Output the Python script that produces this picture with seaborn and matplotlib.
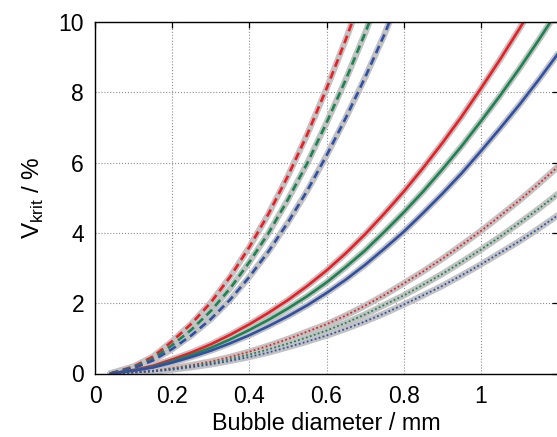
import matplotlib
matplotlib.use("Agg")
import matplotlib.pyplot as plt
import numpy as np
import pandas as pd
import seaborn as sns

# ---- data ----
d_dashed = [0.04, 0.1, 0.15, 0.2, 0.25, 0.3, 0.35, 0.4, 0.45, 0.5, 0.55, 0.6, 0.65, 0.7, 0.75, 0.8]
red_dashed = [0, 0.2, 0.48, 0.92, 1.42, 2.02, 2.75, 3.6, 4.55, 5.62, 6.8, 8.1, 9.5, 11.0, 12.6, 14.4]
green_dashed = [0, 0.18, 0.42, 0.81, 1.25, 1.78, 2.42, 3.17, 4.0, 4.95, 5.98, 7.13, 8.36, 9.68, 11.1, 12.7]
blue_dashed = [0, 0.15, 0.37, 0.70, 1.09, 1.55, 2.1, 2.75, 3.48, 4.3, 5.2, 6.2, 7.27, 8.42, 9.64, 11.0]

d_full = [0.04, 0.1, 0.15, 0.2, 0.25, 0.3, 0.35, 0.4, 0.45, 0.5, 0.55, 0.6, 0.65, 0.7,
          0.75, 0.8, 0.85, 0.9, 0.95, 1.0, 1.05, 1.1, 1.15, 1.2]
red_solid = [0, 0.1, 0.22, 0.40, 0.60, 0.83, 1.1, 1.40, 1.73, 2.09, 2.49, 2.93, 3.42, 3.96,
             4.55, 5.17, 5.84, 6.55, 7.3, 8.1, 8.93, 9.8, 10.71, 11.66]
green_solid = [0, 0.09, 0.19, 0.35, 0.53, 0.73, 0.97, 1.24, 1.53, 1.85, 2.2, 2.59, 3.03, 3.5,
               4.03, 4.58, 5.17, 5.8, 6.46, 7.17, 7.9, 8.67, 9.48, 10.32]
blue_solid = [0, 0.08, 0.17, 0.31, 0.47, 0.65, 0.86, 1.09, 1.35, 1.63, 1.94, 2.29, 2.67, 3.09,
              3.55, 4.03, 4.56, 5.11, 5.69, 6.32, 6.97, 7.64, 8.35, 9.09]

red_dotted = [0, 0.03, 0.08, 0.15, 0.24, 0.34, 0.47, 0.62, 0.79, 0.98, 1.19, 1.40, 1.65, 1.93,
              2.23, 2.56, 2.9, 3.26, 3.65, 4.05, 4.48, 4.92, 5.39, 5.88]
green_dotted = [0, 0.03, 0.07, 0.13, 0.21, 0.3, 0.41, 0.54, 0.69, 0.85, 1.03, 1.22, 1.44, 1.68,
                1.95, 2.22, 2.52, 2.83, 3.17, 3.52, 3.89, 4.28, 4.68, 5.11]
blue_dotted = [0, 0.03, 0.06, 0.11, 0.18, 0.26, 0.36, 0.47, 0.6, 0.75, 0.91, 1.08, 1.27, 1.48,
               1.71, 1.96, 2.22, 2.49, 2.79, 3.1, 3.43, 3.76, 4.12, 4.5]

x_ticks = [0, 0.2, 0.4, 0.6, 0.8, 1.0]
x_ticklabels = ["0", "0.2", "0.4", "0.6", "0.8", "1"]
y_ticks = [0, 2, 4, 6, 8, 10]
y_ticklabels = ["0", "2", "4", "6", "8", "10"]

# ---- style ----
sns.set_style("white")
plt.rcParams["font.family"] = ["Liberation Sans", "DejaVu Sans"]
plt.rcParams["mathtext.fontset"] = "custom"
plt.rcParams["mathtext.rm"] = "Liberation Sans"
for key in ["text.color", "axes.labelcolor", "xtick.color", "ytick.color", "axes.edgecolor"]:
    plt.rcParams[key] = "black"

RED = "#f01c24"
GREEN = "#1b8552"
BLUE = "#3050a8"
GRAY = "#c2c2c2"

fig = plt.figure(figsize=(5.57, 4.37), dpi=100)
ax = fig.add_axes([95.2 / 557, 1 - 373.5 / 437, 462.6 / 557, 351.5 / 437])

curves = [
    (d_dashed, red_dashed, RED, (0, (3, 1.8)), 1.9),
    (d_dashed, green_dashed, GREEN, (0, (3, 1.8)), 1.9),
    (d_dashed, blue_dashed, BLUE, (0, (3, 1.8)), 1.9),
    (d_full, red_solid, RED, "-", 1.9),
    (d_full, green_solid, GREEN, "-", 1.9),
    (d_full, blue_solid, BLUE, "-", 1.9),
    (d_full, red_dotted, RED, (0, (1, 1.3)), 1.3),
    (d_full, green_dotted, GREEN, (0, (1, 1.3)), 1.3),
    (d_full, blue_dotted, BLUE, (0, (1, 1.3)), 1.3),
]

# gray underlay
for d, v, c, ls, lw in curves:
    sns.lineplot(x=d, y=v, ax=ax, color=GRAY, linewidth=4.6, estimator=None,
                 sort=False, solid_capstyle="round")
# coloured curves
for d, v, c, ls, lw in curves:
    sns.lineplot(x=d, y=v, ax=ax, color=c, linewidth=lw, linestyle=ls,
                 estimator=None, sort=False)

ax.set_xlim(0, 1.2)
ax.set_ylim(0, 10)
ax.set_xticks(x_ticks)
ax.set_xticklabels(x_ticklabels)
ax.set_yticks(y_ticks)
ax.set_yticklabels(y_ticklabels)
ax.grid(True, linestyle=":", color="#8f8f8f", linewidth=0.8)
ax.set_axisbelow(True)
for s in ax.spines.values():
    s.set_color("black")
    s.set_linewidth(1.0)
    s.set_visible(True)
ax.tick_params(direction="in", length=4, width=0.9, top=True, right=True,
               labelsize=16.5, pad=8, colors="black")
ax.set_xlabel("Bubble diameter / mm", fontsize=16.8, labelpad=3)
ax.set_ylabel("V$_{\\mathregular{krit}}$ / %", fontsize=17.5, labelpad=9)

fig.savefig("out.png", dpi=100)
